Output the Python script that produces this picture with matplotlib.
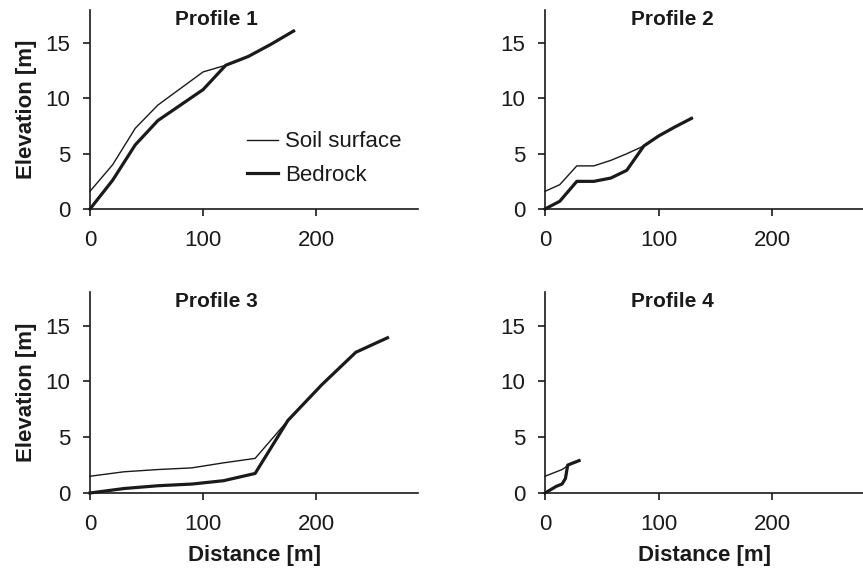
import matplotlib
matplotlib.use("Agg")
import matplotlib.pyplot as plt

# Profile data (distance [m], elevation [m])
p1_dist = [0, 20, 40, 60, 80, 100, 120, 140, 160, 180]
p1_soil = [1.6, 4.0, 7.3, 9.4, 10.9, 12.4, 13.0, 13.8, 14.9, 16.1]
p1_rock = [0.0, 2.6, 5.8, 8.0, 9.4, 10.8, 13.0, 13.8, 14.9, 16.1]

p2_dist = [0, 13, 28, 43, 58, 72, 87, 100, 114, 129]
p2_soil = [1.6, 2.2, 3.9, 3.9, 4.4, 5.0, 5.7, 6.6, 7.4, 8.2]
p2_rock = [0.0, 0.7, 2.5, 2.5, 2.8, 3.5, 5.7, 6.6, 7.4, 8.2]

p3_dist = [0, 30, 60, 90, 118, 146, 175, 205, 235, 263]
p3_soil = [1.5, 1.9, 2.1, 2.25, 2.7, 3.1, 6.5, 9.7, 12.6, 13.9]
p3_rock = [0.0, 0.4, 0.65, 0.8, 1.1, 1.75, 6.5, 9.7, 12.6, 13.9]

p4_dist = [0, 5, 10, 15, 18, 20, 25, 30]
p4_soil = [1.5, 1.7, 1.9, 2.1, 2.3, 2.5, 2.7, 2.9]
p4_rock = [0.0, 0.3, 0.6, 0.8, 1.3, 2.5, 2.7, 2.9]

titles = ["Profile 1", "Profile 2", "Profile 3", "Profile 4"]

plt.rcParams['font.family'] = ['Liberation Sans', 'DejaVu Sans']
ink = "#1a1a1a"

W, H = 863, 573
fig = plt.figure(figsize=(W / 100, H / 100), dpi=100)

# axes boxes in pixels: left, top, right, bottom
boxes = [(90, 10, 418, 209), (545, 10, 863, 209),
         (90, 292, 418, 493), (545, 292, 863, 493)]
xmax = [290, 280, 290, 280]
data = [(p1_dist, p1_soil, p1_rock), (p2_dist, p2_soil, p2_rock),
        (p3_dist, p3_soil, p3_rock), (p4_dist, p4_soil, p4_rock)]

for i, (l, t, r, b) in enumerate(boxes):
    ax = fig.add_axes([l / W, (H - b) / H, (r - l) / W, (b - t) / H])
    d, soil, rock = data[i]
    ax.plot(d, soil, color=ink, lw=1.0, label="Soil surface", clip_on=False)
    ax.plot(d, rock, color=ink, lw=2.3, label="Bedrock", clip_on=False)
    ax.set_xlim(0, xmax[i])
    ax.set_ylim(0, 18)
    ax.set_xticks([0, 100, 200])
    ax.set_yticks([0, 5, 10, 15])
    for s in ["top", "right"]:
        ax.spines[s].set_visible(False)
    for s in ["left", "bottom"]:
        ax.spines[s].set_linewidth(1.2)
        ax.spines[s].set_color(ink)
    ax.tick_params(axis="x", direction="out", length=5, width=1.2, pad=10,
                   labelsize=16, colors=ink)
    ax.tick_params(axis="y", direction="out", length=5, width=1.2, pad=9,
                   labelsize=16, colors=ink)
    ax.text(112, 1.0, titles[i], transform=ax.get_xaxis_transform(),
            ha="center", va="top", fontsize=15, fontweight="bold", color=ink)
    if i % 2 == 0:
        ax.set_ylabel("Elevation [m]", fontsize=16, fontweight="bold",
                      color=ink, labelpad=6)
    if i >= 2:
        ax.set_xlabel("Distance [m]", fontsize=16, fontweight="bold",
                      color=ink, labelpad=7)
    if i == 0:
        ax.legend(loc="upper left", bbox_to_anchor=(0.479, 0.39), frameon=False,
                  fontsize=16, handlelength=1.4, handletextpad=0.3,
                  labelspacing=0.55, borderpad=0, borderaxespad=0,
                  labelcolor=ink)

fig.savefig("out.png", dpi=100)
